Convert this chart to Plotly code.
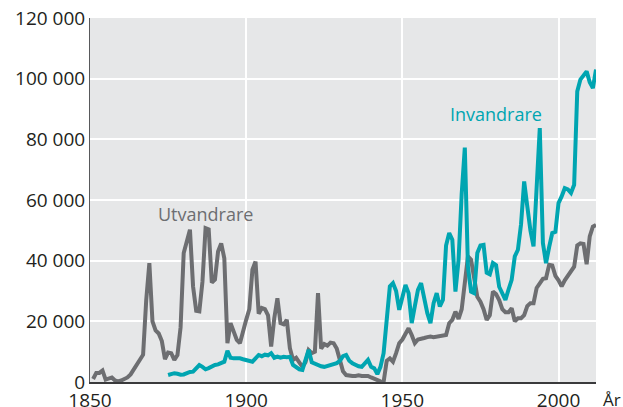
import plotly.graph_objects as go

# Emigration (Utvandrare), 1851-2012
utv_years = list(range(1851, 2013))
utvandrare = [
    1000, 3000, 3000, 3800, 800, 1200, 1500, 500, 200, 500,            # 1851-1860
    1000, 1500, 2500, 4000, 5500, 7000, 9000, 27000, 39200, 20000,     # 1861-1870
    17000, 16000, 13500, 7500, 9700, 9500, 7300, 8900, 18000, 42500,   # 1871-1880
    46500, 50200, 31500, 23500, 23300, 33000, 50700, 50300, 32800, 33800,  # 1881-1890
    43000, 45700, 40800, 12800, 19400, 16500, 13900, 12800, 17000, 20500,  # 1891-1900
    24000, 37000, 39700, 22500, 24400, 24000, 22000, 11700, 21000, 27600,  # 1901-1910
    19400, 19000, 20500, 11100, 7300, 8000, 6500, 5000, 6500, 10500,   # 1911-1920
    9500, 10000, 29300, 11000, 12500, 12000, 13000, 12800, 11000, 7300,  # 1921-1930
    3500, 2300, 2000, 2000, 2000, 2200, 2000, 2100, 2000, 1500,        # 1931-1940
    1000, 500, 200, 0, 7000, 7800, 6700, 9500, 12800, 14000,           # 1941-1950
    16000, 17700, 15500, 12800, 14000, 14400, 14500, 14800, 15000, 14800,  # 1951-1960
    15000, 15000, 15200, 15500, 19400, 20500, 23200, 20800, 24000, 33700,  # 1961-1970
    41400, 40300, 35000, 28100, 26500, 24000, 20500, 22000, 29800, 29000,  # 1971-1980
    27000, 24000, 23000, 23000, 24300, 20000, 21000, 21000, 22000, 25000,  # 1981-1990
    26000, 26000, 31000, 32500, 34000, 34200, 38600, 38400, 35000, 33500,  # 1991-2000
    31500, 33500, 35000, 37000, 38000, 45000, 45700, 45500, 38800, 48000,  # 2001-2010
    51200, 51800,                                                      # 2011-2012
]

# Immigration (Invandrare), 1875-2012
inv_years = list(range(1875, 2013))
invandrare = [
    2300, 2600, 2900, 2700, 2400, 2500,                                # 1875-1880
    3000, 3300, 3400, 4500, 5600, 5000, 4200, 4600, 5200, 5600,        # 1881-1890
    5800, 6200, 6700, 10300, 8000, 7800, 7900, 7800, 7500, 7200,       # 1891-1900
    6800, 6700, 7800, 8900, 8500, 9000, 8800, 9500, 8000, 8400,        # 1901-1910
    8000, 8300, 8200, 8300, 5600, 5000, 4200, 4000, 7000, 10600,       # 1911-1920
    6500, 6000, 5500, 5200, 5000, 5300, 5500, 5800, 6200, 7000,        # 1921-1930
    8500, 8900, 7000, 6200, 5600, 5200, 5000, 6000, 7300, 5000,        # 1931-1940
    4500, 2600, 5000, 9500, 22000, 31500, 32600, 30000, 23800, 28000,  # 1941-1950
    32000, 29300, 19400, 25000, 30400, 32600, 27000, 22700, 19400, 26000,  # 1951-1960
    29300, 24900, 27100, 45000, 49100, 46900, 29800, 40300, 62000, 77300,  # 1961-1970
    38000, 29800, 29300, 42500, 45000, 45200, 36000, 35500, 39200, 38500,  # 1971-1980
    31400, 29300, 27100, 30500, 33700, 41400, 43600, 52000, 66100, 57900,  # 1981-1990
    50000, 44700, 62000, 83700, 45800, 39200, 44500, 49100, 49500, 59000,  # 1991-2000
    61200, 63900, 63500, 62300, 65000, 95800, 99700, 101200, 102400, 98800,  # 2001-2010
    96900, 103000,                                                     # 2011-2012
]

x_ticks = [1850, 1900, 1950, 2000]
y_ticks = [0, 20000, 40000, 60000, 80000, 100000, 120000]
y_tick_labels = ["0", "20 000", "40 000", "60 000", "80 000", "100 000", "120 000"]

GRAY = "#6d6e71"
TEAL = "#00a5b1"
TEXT = "#231f20"
FONT = "Open Sans"

fig = go.Figure()
fig.add_trace(go.Scatter(x=utv_years, y=utvandrare, mode="lines",
                         line=dict(color=GRAY, width=4), name="Utvandrare",
                         showlegend=False))
fig.add_trace(go.Scatter(x=inv_years, y=invandrare, mode="lines",
                         line=dict(color=TEAL, width=4), name="Invandrare",
                         showlegend=False))

fig.add_annotation(x=1887, y=55500, xref="x", yref="y", text="Utvandrare",
                   showarrow=False, font=dict(family=FONT, size=18, color=GRAY))
fig.add_annotation(x=1980, y=88500, xref="x", yref="y", text="Invandrare",
                   showarrow=False, font=dict(family=FONT, size=18, color=TEAL))
fig.add_annotation(x=1, y=0, xref="paper", yref="paper", text="År",
                   xanchor="left", yanchor="top", xshift=5, yshift=-4,
                   showarrow=False, font=dict(family=FONT, size=17, color=TEXT))

fig.update_layout(
    width=623, height=407,
    margin=dict(l=90, r=27, t=18, b=25, autoexpand=False),
    paper_bgcolor="white",
    plot_bgcolor="#e6e7e8",
    font=dict(family=FONT, size=19, color=TEXT),
)
fig.update_xaxes(range=[1850, 2012], tickvals=x_ticks, showgrid=True,
                 gridcolor="white", gridwidth=1.5, zeroline=False,
                 showline=True, linecolor="#3a3a3c", linewidth=1.5,
                 ticks="", automargin=False, ticklabeloverflow="allow",
                 tickfont=dict(family=FONT, size=19, color=TEXT))
fig.update_yaxes(range=[0, 120000], tickvals=y_ticks, ticktext=y_tick_labels,
                 showgrid=True, gridcolor="white", gridwidth=1.5, zeroline=False,
                 showline=True, linecolor="#58595b", linewidth=1,
                 ticks="", automargin=False, ticklabeloverflow="allow",
                 tickfont=dict(family=FONT, size=19, color=TEXT))

# Remove the default 8 px page margin so the 623x407 figure fills the window.
fig.write_html(
    "out.html",
    config={"displayModeBar": False},
    post_script="document.body.style.margin='0';"
                "document.documentElement.style.overflow='hidden';",
)
